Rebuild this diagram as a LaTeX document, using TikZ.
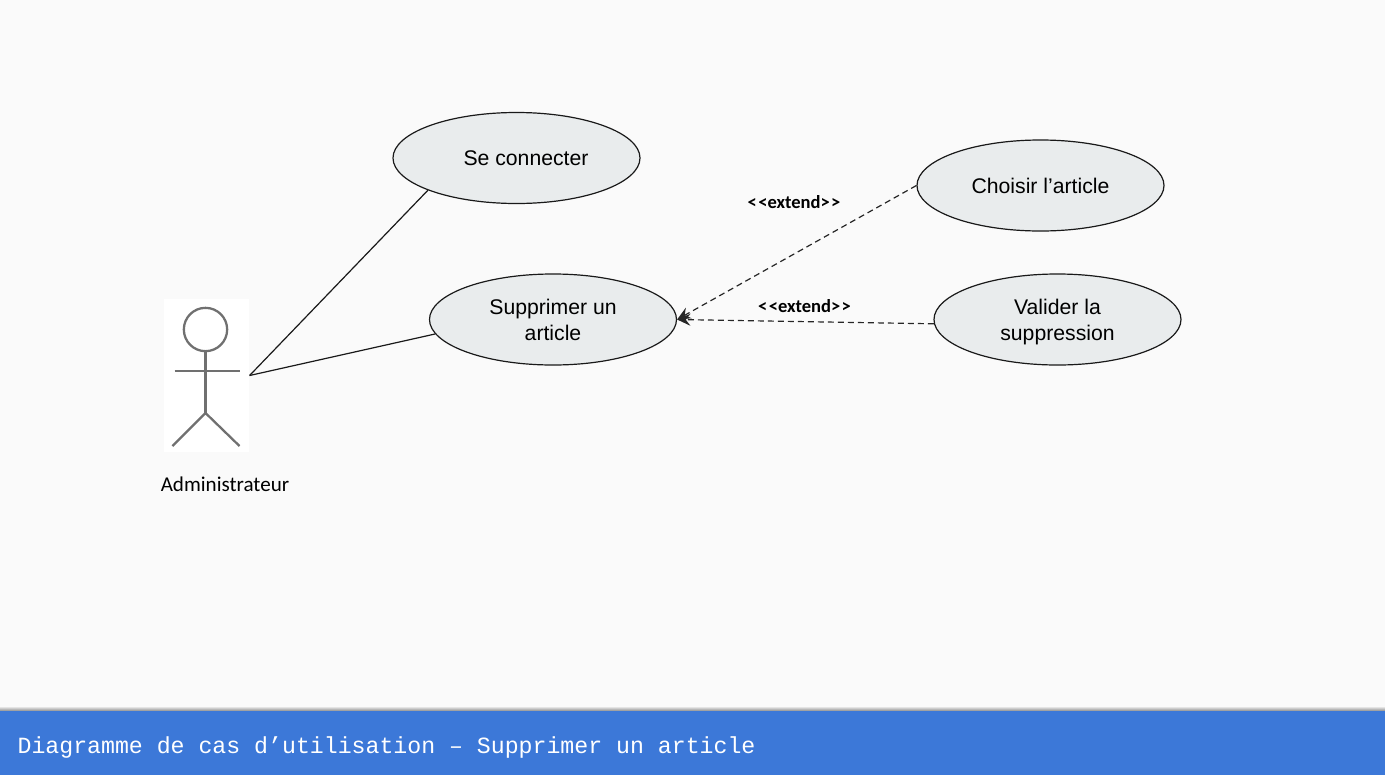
\documentclass[tikz,border=0pt]{standalone}
\usepackage{fontspec}
\setmainfont{Liberation Sans}
\newfontfamily\labelfont{Carlito}
\newfontfamily\footfont{Liberation Mono}
\usetikzlibrary{shapes.geometric,arrows.meta}
\definecolor{pagebg}{HTML}{FAFAFA}
\definecolor{casefill}{HTML}{E9ECED}
\definecolor{footblue}{HTML}{3C78D8}
\definecolor{stickgray}{HTML}{707070}
\begin{document}
\begin{tikzpicture}[x=0.75pt, y=-0.75pt, line width=0.9pt,
    usecase/.style={ellipse, draw=black!90, fill=casefill, minimum width=185.25pt, minimum height=68.25pt, inner sep=0pt},
    casetext/.style={inner sep=0pt, align=center, font=\fontsize{15.9}{19.5}\selectfont},
    link/.style={draw=black!90},
    extendlink/.style={draw=black!85, dashed, dash pattern=on 4.5pt off 3pt, -{Stealth[length=10pt,width=9pt,inset=3.5pt]}},
    extendlabel/.style={font=\labelfont\bfseries\fontsize{13.9}{16}\selectfont, inner sep=0pt},
    stick/.style={draw=stickgray, line width=1.7pt}]
  \useasboundingbox (0,0) rectangle (1385,775);
  \fill[pagebg] (0,0) rectangle (1385,775);
  % bottom band
  \shade[top color=pagebg, bottom color=black!45] (0,706) rectangle (1385,711);
  \node[fill=footblue, minimum width=1038.75pt, minimum height=48pt, inner sep=0pt] (band) at (692.5,743) {};
  \node[anchor=base west, inner sep=0pt, text=white, font=\footfont\fontsize{17.4}{20}\selectfont] (title) at (17,753) {Diagramme de cas d’utilisation – Supprimer un article};
  % actor
  \node[fill=white, minimum width=63.75pt, minimum height=114.75pt, inner sep=0pt] (actorbox) at (206.5,375.5) {};
  \node[circle, stick, minimum size=32.5pt, inner sep=0pt] (head) at (205.5,329.5) {};
  \coordinate (hip) at (205.5,413);
  \coordinate (handl) at (174.5,371);
  \coordinate (handr) at (240,371);
  \coordinate (footl) at (172.5,446);
  \coordinate (footr) at (239.5,446);
  \draw[stick] (head.south) -- (hip);
  \draw[stick] (handl) -- (handr);
  \draw[stick] (footl) -- (hip) -- (footr);
  \node[anchor=base, inner sep=0pt, font=\labelfont\fontsize{15.8}{18}\selectfont] (actorname) at (225,491) {Administrateur};
  % use cases
  \node[usecase] (connect) at (516.5,158) {};
  \node[usecase] (delete) at (553,319.5) {};
  \node[usecase] (choose) at (1040.5,185.5) {};
  \node[usecase] (confirm) at (1057.5,319.5) {};
  \node[casetext] (connecttext) at (526,158.5) {Se connecter};
  \node[casetext] (deletetext) at (553,319.5) {Supprimer un\\article};
  \node[casetext] (choosetext) at (1040.5,185.5) {Choisir l’article};
  \node[casetext] (confirmtext) at (1057.5,322.5) {Valider la\\suppression};
  \draw[link] (actorbox.east) -- (connect.200);
  \draw[link] (actorbox.east) -- (delete.187);
  \draw[extendlink] (choose.west) -- (delete.east);
  \draw[extendlink] (confirm.182) -- (delete.east);
  \node[extendlabel] (extendone) at (794,202) {<\kern1pt<extend>\kern1pt>};
  \node[extendlabel] (extendtwo) at (804.5,306) {<\kern1pt<extend>\kern1pt>};
\end{tikzpicture}
\end{document}
